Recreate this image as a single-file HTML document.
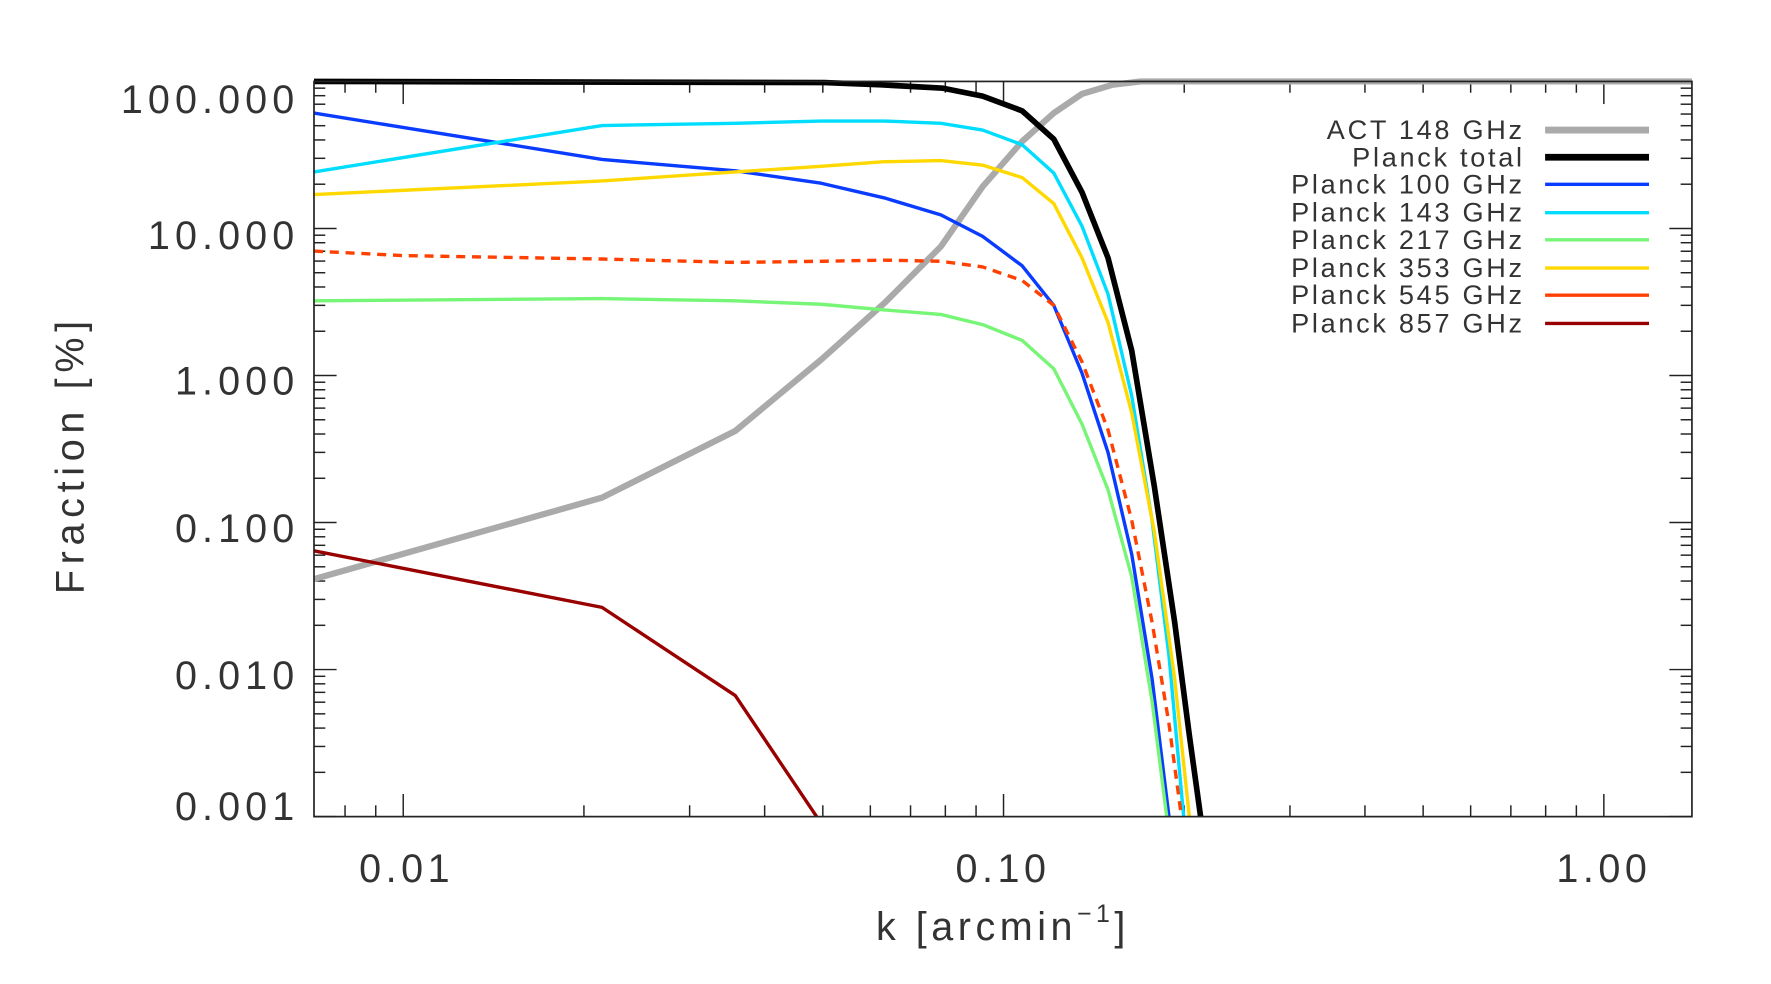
<!DOCTYPE html>
<html><head><meta charset="utf-8"><style>
html,body{margin:0;padding:0;background:#fff;}
svg{display:block;}
text{font-family:"Liberation Sans","DejaVu Sans",sans-serif;fill:#333;}
</style></head><body>
<svg id="s" width="1771" height="984" viewBox="0 0 1568 870" preserveAspectRatio="none" xmlns="http://www.w3.org/2000/svg">
<g id="ticks" stroke="#222" stroke-width="1.3" fill="none"></g>
<g fill="none" stroke-linejoin="round">
<polyline stroke="#aaaaaa" stroke-width="5.5" points="278,512 533,440 651,381 727,318 783,268 833,218 870,165 905,125 933,100 958,83 985,75 1010,72 1498,72"/>
<polyline stroke="#000" stroke-width="5" points="278,72 730,73 780,75 835,78 870,85 905,98 933,123 958,170 981,228 1002,310 1022,430 1040,550 1053,650 1063,722"/>
<polyline stroke="#0a3cff" stroke-width="3" points="278,100 533,141 651,151 727,162 783,175 833,190 870,209 905,235 933,270 958,330 981,400 1002,490 1020,600 1035,722"/>
<polyline stroke="#00ddff" stroke-width="3" points="278,152 533,111 651,109 727,107 783,107 833,109 870,115 905,128 933,153 958,200 981,260 1002,350 1020,460 1035,580 1048,722"/>
<polyline stroke="#ffd800" stroke-width="3" points="278,172 533,160 651,152 727,147 783,143 833,142 870,146 905,157 933,180 958,228 981,285 1002,365 1022,470 1040,600 1053,722"/>
<polyline stroke="#ff4000" stroke-width="3" stroke-dasharray="8,6" points="278,222 357,226 533,229 651,232 727,231 783,230 833,231 870,236 905,248 933,270 958,320 981,380 1002,460 1020,550 1035,640 1046,722"/>
<polyline stroke="#77f577" stroke-width="3" points="278,266 533,264 651,266 727,269 783,274 833,278 870,287 905,301 933,326 958,375 981,433 1002,510 1020,620 1033,722"/>
<polyline stroke="#990000" stroke-width="3" points="278,487 533,537 651,615 723,722"/>
</g>
<rect x="278" y="72" width="1220" height="650" fill="none" stroke="#222" stroke-width="1.5"/>
<g font-size="35" text-anchor="end" letter-spacing="4.5">
<text x="265" y="100">100.000</text>
<text x="265" y="220">10.000</text>
<text x="265" y="349">1.000</text>
<text x="265" y="479">0.100</text>
<text x="265" y="609">0.010</text>
<text x="265" y="725">0.001</text>
</g>
<g font-size="35" text-anchor="middle" letter-spacing="4">
<text x="360" y="780">0.01</text>
<text x="888" y="780">0.10</text>
<text x="1420" y="780">1.00</text>
<text x="888" y="831">k [arcmin<tspan font-size="22" dy="-16">−1</tspan><tspan dy="16">]</tspan></text>
<text transform="translate(74,402) rotate(-90)" letter-spacing="5">Fraction [%]</text>
</g>
<g font-size="24" text-anchor="end" letter-spacing="2.4">
<text x="1350" y="123">ACT 148 GHz</text>
<text x="1350" y="147">Planck total</text>
<text x="1350" y="171">Planck 100 GHz</text>
<text x="1350" y="196">Planck 143 GHz</text>
<text x="1350" y="220">Planck 217 GHz</text>
<text x="1350" y="245">Planck 353 GHz</text>
<text x="1350" y="269">Planck 545 GHz</text>
<text x="1350" y="294">Planck 857 GHz</text>
</g>
<g fill="none">
<line x1="1368" x2="1460" y1="115" y2="115" stroke="#aaaaaa" stroke-width="6"/>
<line x1="1368" x2="1460" y1="139" y2="139" stroke="#000" stroke-width="6"/>
<line x1="1368" x2="1460" y1="163" y2="163" stroke="#0a3cff" stroke-width="3"/>
<line x1="1368" x2="1460" y1="188" y2="188" stroke="#00ddff" stroke-width="3"/>
<line x1="1368" x2="1460" y1="212" y2="212" stroke="#77f577" stroke-width="3"/>
<line x1="1368" x2="1460" y1="237" y2="237" stroke="#ffd800" stroke-width="3"/>
<line x1="1368" x2="1460" y1="261" y2="261" stroke="#ff4000" stroke-width="3"/>
<line x1="1368" x2="1460" y1="286" y2="286" stroke="#990000" stroke-width="3"/>
</g>
</svg>
<script>
var g=document.getElementById('ticks'),h='';
function L(a,b,c,d){h+='<line x1="'+a+'" y1="'+b+'" x2="'+c+'" y2="'+d+'"/>';}
for(var e=-3;e<2;e++){for(var m=1;m<10;m++){var v=e+Math.log10(m);var y=722-(v+3)*130;if(y<72)continue;var len=(m==1)?20:10;L(278,y,278+len,y);L(1498,y,1498-len,y);}}
L(278,72,298,72);L(1498,72,1478,72);
for(var e=-3;e<1;e++){for(var m=1;m<10;m++){var v=e+Math.log10(m);var x=357+(v+2)*531.5;if(x<278||x>1498)continue;var len=(m==1)?20:10;L(x,722,x,722-len);L(x,72,x,72+len);}}
g.innerHTML=h;
</script>
</body></html>
